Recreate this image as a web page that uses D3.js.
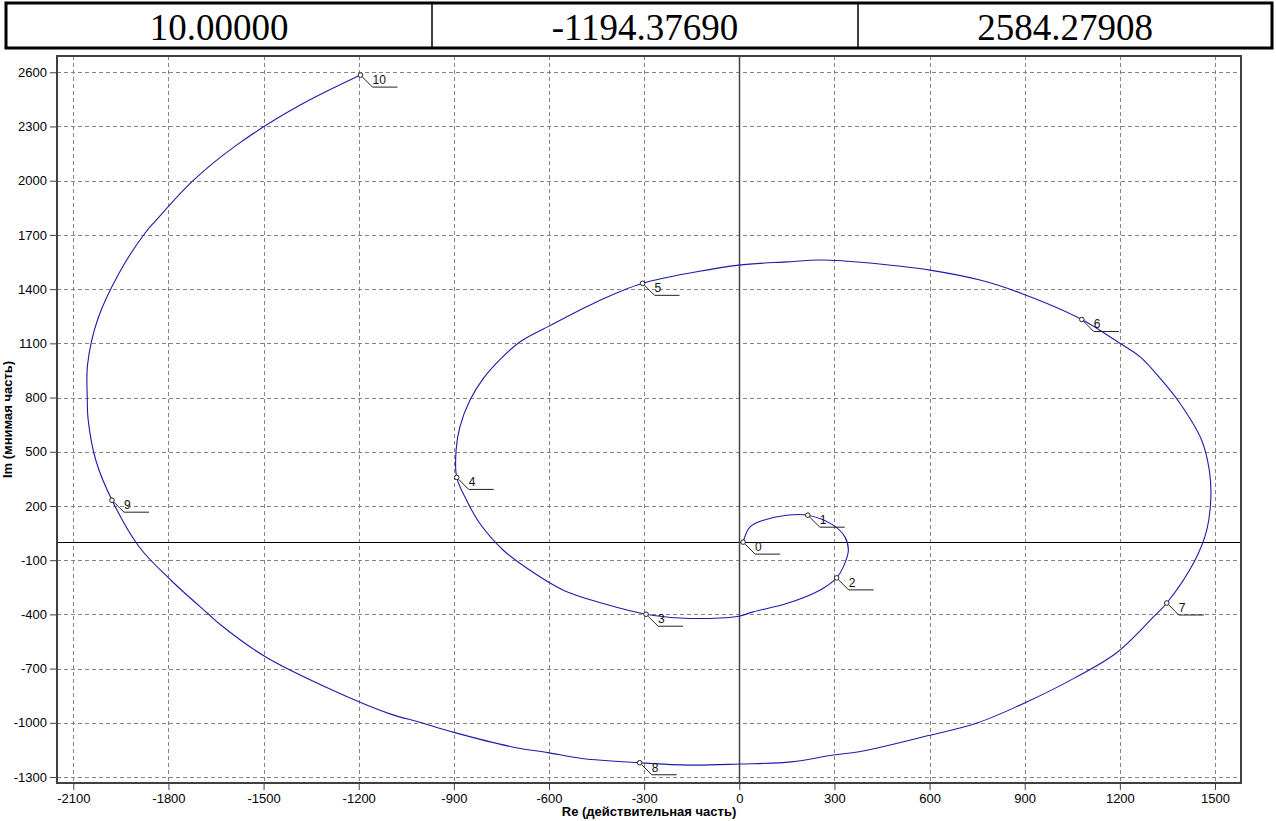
<!DOCTYPE html>
<html>
<head>
<meta charset="utf-8">
<script src="https://cdn.jsdelivr.net/npm/d3@7"></script>
<style>
  html, body { margin: 0; padding: 0; background: #fff; }
  svg { display: block; font-family: Arial, "Liberation Sans", sans-serif; }
</style>
</head>
<body>
<svg id="chart" width="1276" height="821"></svg>
<script>
// values shown in the header table: omega, Re, Im at the last point
const tableValues = ['10.00000', '-1194.37690', '2584.27908']

const xTicks = d3.range(-2100, 1501, 300)
const yTicks = d3.range(-1300, 2601, 300)

// hodograph, omega = 0 .. 10
const curveRe = [
  12, 34, 76, 149, 216, 296, 333, 344, 328, 307, 254, 149, 44, -1, -61, -187, -294,
  -429, -555, -660, -744, -818, -860, -891, -893, -881, -849, -807, -750, -690, -597,
  -460, -305, -134, -1, 149, 254, 330, 420, 601, 759, 890, 1080, 1200, 1264, 1330, 1390,
  1458, 1482, 1487, 1474, 1437, 1348, 1306, 1190, 1055, 906, 750, 593, 378, 296, 164,
  -1, -158, -314, -496, -603, -719, -900, -1007, -1104, -1282, -1493, -1634, -1676,
  -1792, -1892, -1978, -2029, -2053, -2056, -2055, -2023, -1955, -1873, -1839, -1724,
  -1582, -1393, -1194.3769
]
const curveIm = [
  0, 84, 121, 149, 149, 94, 29, -45, -137, -198, -266, -340, -386, -410, -420, -420, -399,
  -340, -266, -156, -45, 103, 232, 358, 509, 638, 786, 906, 1018, 1110, 1198,
  1321, 1432, 1496, 1533, 1551, 1561, 1556, 1543, 1505, 1450, 1376, 1232, 1100, 1025, 900, 767,
  564, 398, 250, 66, -100, -337, -414, -612, -754, -885, -1001, -1072, -1160, -1178, -1216,
  -1228, -1234, -1221, -1197, -1165, -1132, -1053, -997, -949, -820, -636, -460, -395,
  -211, -27, 232, 453, 675, 800, 983, 1233, 1491, 1712, 1781, 1998,
  2201, 2410, 2584.27908
]

// marked frequencies
const markLabels = ['0', '1', '2', '3', '4', '5', '6', '7', '8', '9', '10']
const markRe = [12, 216, 307, -294, -891, -305, 1080, 1348, -314, -1978, -1194.3769]
const markIm = [0, 149, -198, -399, 358, 1432, 1232, -337, -1221, 232, 2584.27908]

const svg = d3.select('#chart')

// ---- header table
const cellEdges = [6, 432, 858, 1272]
const tableTop = 3, tableBottom = 48
const table = svg.append('g')
table.append('rect')
  .attr('x', cellEdges[0]).attr('y', tableTop)
  .attr('width', cellEdges[3] - cellEdges[0]).attr('height', tableBottom - tableTop)
  .attr('fill', 'none').attr('stroke', '#000').attr('stroke-width', 3)
table.selectAll('line').data(cellEdges.slice(1, 3)).enter().append('line')
  .attr('x1', d => d).attr('x2', d => d)
  .attr('y1', tableTop).attr('y2', tableBottom)
  .attr('stroke', '#000').attr('stroke-width', 1.5)
table.selectAll('text').data(tableValues).enter().append('text')
  .attr('x', (d, i) => (cellEdges[i] + cellEdges[i + 1]) / 2)
  .attr('y', 40)
  .attr('text-anchor', 'middle')
  .attr('font-family', '"Liberation Serif", "Times New Roman", serif')
  .attr('font-size', '37px')
  .text(d => d)

// ---- plot
const plot = { left: 57, right: 1241, top: 56, bottom: 783 }
const x = d3.scaleLinear().domain([-2151.4, 1582]).range([plot.left, plot.right])
const y = d3.scaleLinear().domain([-1333, 2690]).range([plot.bottom, plot.top])
const px = v => Math.round(x(v)) + 0.5
const py = v => Math.round(y(v)) + 0.5

const grid = svg.append('g')
  .attr('stroke', '#858585').attr('stroke-width', 1).attr('stroke-dasharray', '4,3')
grid.selectAll('.gx').data(xTicks).enter().append('line')
  .attr('x1', px).attr('x2', px).attr('y1', plot.top).attr('y2', plot.bottom)
grid.selectAll('.gy').data(yTicks).enter().append('line')
  .attr('y1', py).attr('y2', py).attr('x1', plot.left).attr('x2', plot.right)

// zero axes
svg.append('line')
  .attr('x1', plot.left).attr('x2', plot.right).attr('y1', py(0)).attr('y2', py(0))
  .attr('stroke', '#000').attr('stroke-width', 1)
svg.append('line')
  .attr('y1', plot.top).attr('y2', plot.bottom).attr('x1', px(0)).attr('x2', px(0))
  .attr('stroke', '#444').attr('stroke-width', 1.5)

// frame
svg.append('rect')
  .attr('x', plot.left).attr('y', plot.top)
  .attr('width', plot.right - plot.left).attr('height', plot.bottom - plot.top)
  .attr('fill', 'none').attr('stroke', '#404040').attr('stroke-width', 2)

// axes (plain hyphen for negatives, like the original)
const fmt = d => String(d)
const xAxis = d3.axisBottom(x).tickValues(xTicks).tickFormat(fmt).tickSize(6).tickPadding(4)
const yAxis = d3.axisLeft(y).tickValues(yTicks).tickFormat(fmt).tickSize(6).tickPadding(3)
const gx = svg.append('g').attr('transform', `translate(0,${plot.bottom + 1})`).call(xAxis)
const gy = svg.append('g').attr('transform', `translate(${plot.left - 1},0)`).call(yAxis)
for (const g of [gx, gy]) {
  g.select('.domain').remove()
  g.selectAll('line').attr('stroke', '#404040')
  g.selectAll('text').attr('font-size', '13px').attr('fill', '#000')
    .attr('font-family', 'Arial, "Liberation Sans", sans-serif')
}

svg.append('text')
  .attr('x', (plot.left + plot.right) / 2).attr('y', 816)
  .attr('text-anchor', 'middle').attr('font-size', '13px').attr('font-weight', 'bold')
  .text('Re (действительная часть)')
svg.append('text')
  .attr('transform', `translate(12,${(plot.top + plot.bottom) / 2}) rotate(-90)`)
  .attr('text-anchor', 'middle').attr('font-size', '13px').attr('font-weight', 'bold')
  .text('Im (мнимая часть)')

// curve
const pts = curveRe.map((r, i) => [r, curveIm[i]])
const line = d3.line().x(d => x(d[0])).y(d => y(d[1])).curve(d3.curveCatmullRom.alpha(0.5))
svg.append('path')
  .attr('d', line(pts))
  .attr('fill', 'none').attr('stroke', '#1c1ca8').attr('stroke-width', 1.1)

// markers with leader lines
const marks = markLabels.map((l, i) => ({ label: l, re: markRe[i], im: markIm[i] }))
const mg = svg.append('g').selectAll('g').data(marks).enter().append('g')
  .attr('transform', d => `translate(${x(d.re)},${y(d.im)})`)
mg.append('path')
  .attr('d', 'M2,2 L12,12 L37,12')
  .attr('fill', 'none').attr('stroke', '#222').attr('stroke-width', 1)
mg.append('circle')
  .attr('r', 2.3)
  .attr('fill', '#fff').attr('stroke', '#222').attr('stroke-width', 1)
mg.append('text')
  .attr('x', 12).attr('y', 9)
  .attr('font-size', '12px').attr('fill', '#111')
  .text(d => d.label)
</script>
</body>
</html>
